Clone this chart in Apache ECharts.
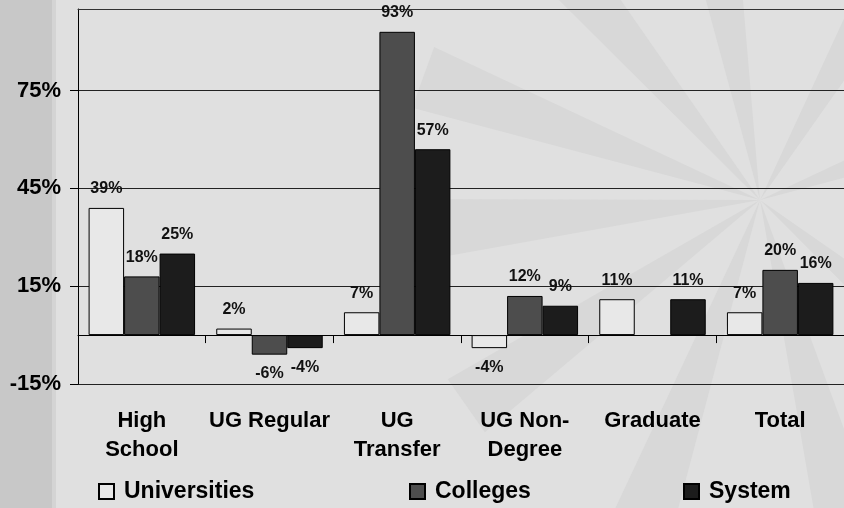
<!DOCTYPE html>
<html>
<head>
<meta charset="utf-8">
<script src="https://cdn.jsdelivr.net/npm/echarts@6/dist/echarts.min.js"></script>
<style>
  html, body { margin: 0; padding: 0; background: #e0e0e0; }
  #chart { width: 844px; height: 508px; }
</style>
</head>
<body>
<div id="chart"></div>
<script>
const categories = ['High\nSchool', 'UG Regular', 'UG\nTransfer', 'UG Non-\nDegree', 'Graduate', 'Total']
const universities = [39, 2, 7, -4, 11, 7]
const colleges = [18, -6, 93, 12, null, 20]
const system = [25, -4, 57, 9, 11, 16]
const yTicks = [-15, 15, 45, 75]

const font = 'Arial, "Liberation Sans", sans-serif'
const chart = echarts.init(document.getElementById('chart'))

function barData(values) {
  return values.map(v => v === null ? '-' : (v < 0 ? { value: v, label: { position: 'bottom' } } : v))
}

function makeSeries(name, values, fill) {
  return {
    name,
    type: 'bar',
    xAxisIndex: 0,
    barGap: '0%',
    barCategoryGap: '16.6%',
    itemStyle: { color: fill, borderColor: '#000', borderWidth: 1 },
    label: {
      show: true,
      position: 'top',
      distance: 11,
      formatter: '{c}%',
      color: '#111',
      fontFamily: font,
      fontWeight: 'bold',
      fontSize: 16,
    },
    data: barData(values),
  }
}

// faint starburst watermark behind the plot
const rayAngles = [160, 185, 215, 250, 285, 320, 20, 60, 100, 130]
const cx = 760, cy = 200
const rays = rayAngles.map(a => {
  const r = a * Math.PI / 180
  const len = 360, half = 0.09
  return {
    type: 'polygon',
    z: -9,
    shape: {
      points: [
        [cx, cy],
        [cx + len * Math.cos(r - half), cy - len * Math.sin(r - half)],
        [cx + len * Math.cos(r + half), cy - len * Math.sin(r + half)],
      ],
    },
    style: { fill: '#d8d8d8' },
  }
})

const legendText = { color: '#000', fontFamily: font, fontWeight: 'bold', fontSize: 23, padding: [0, 0, 0, 5] }
const legendBase = { top: 480, padding: 0, itemWidth: 15, itemHeight: 15, icon: 'rect', textStyle: legendText }

chart.setOption({
  backgroundColor: '#e0e0e0',
  animation: false,
  graphic: [
    ...rays,
    { type: 'rect', left: 0, top: 0, z: -8, shape: { width: 52, height: 508 }, style: { fill: '#c8c8c8' } },
    { type: 'rect', left: 52, top: 0, z: -8, shape: { width: 4, height: 508 }, style: { fill: '#d4d4d4' } },
  ],
  grid: { left: 78, top: 9, width: 777, height: 375, containLabel: false },
  legend: [
    { ...legendBase, data: ['Universities'], left: 98 },
    { ...legendBase, data: ['Colleges'], left: 409 },
    { ...legendBase, data: ['System'], left: 683 },
  ],
  xAxis: [
    {
      type: 'category',
      data: categories,
      position: 'bottom',
      axisLine: { onZero: true, lineStyle: { color: '#000', width: 1 } },
      axisTick: { show: true, length: 8, lineStyle: { color: '#000' } },
      axisLabel: { show: false },
    },
    {
      type: 'category',
      data: categories,
      position: 'bottom',
      axisLine: { show: false, onZero: false },
      axisTick: { show: false },
      axisLabel: {
        interval: 0,
        margin: 22,
        color: '#000',
        fontFamily: font,
        fontWeight: 'bold',
        fontSize: 22,
        lineHeight: 29,
      },
    },
    {
      type: 'category',
      data: categories,
      position: 'top',
      axisLine: { show: true, onZero: false, lineStyle: { color: '#333', width: 1 } },
      axisTick: { show: false },
      axisLabel: { show: false },
    },
  ],
  yAxis: {
    type: 'value',
    min: -15,
    max: 100,
    interval: 30,
    axisLine: { show: true, lineStyle: { color: '#000' } },
    axisTick: { show: true, length: 8, customValues: yTicks, lineStyle: { color: '#000' } },
    splitLine: { show: true, lineStyle: { color: '#222', width: 1 } },
    axisLabel: {
      customValues: yTicks,
      margin: 17,
      formatter: '{value}%',
      color: '#000',
      fontFamily: font,
      fontWeight: 'bold',
      fontSize: 22,
    },
  },
  series: [
    makeSeries('Universities', universities, '#e8e8e8'),
    makeSeries('Colleges', colleges, '#4d4d4d'),
    makeSeries('System', system, '#1c1c1c'),
  ],
})
</script>
</body>
</html>
